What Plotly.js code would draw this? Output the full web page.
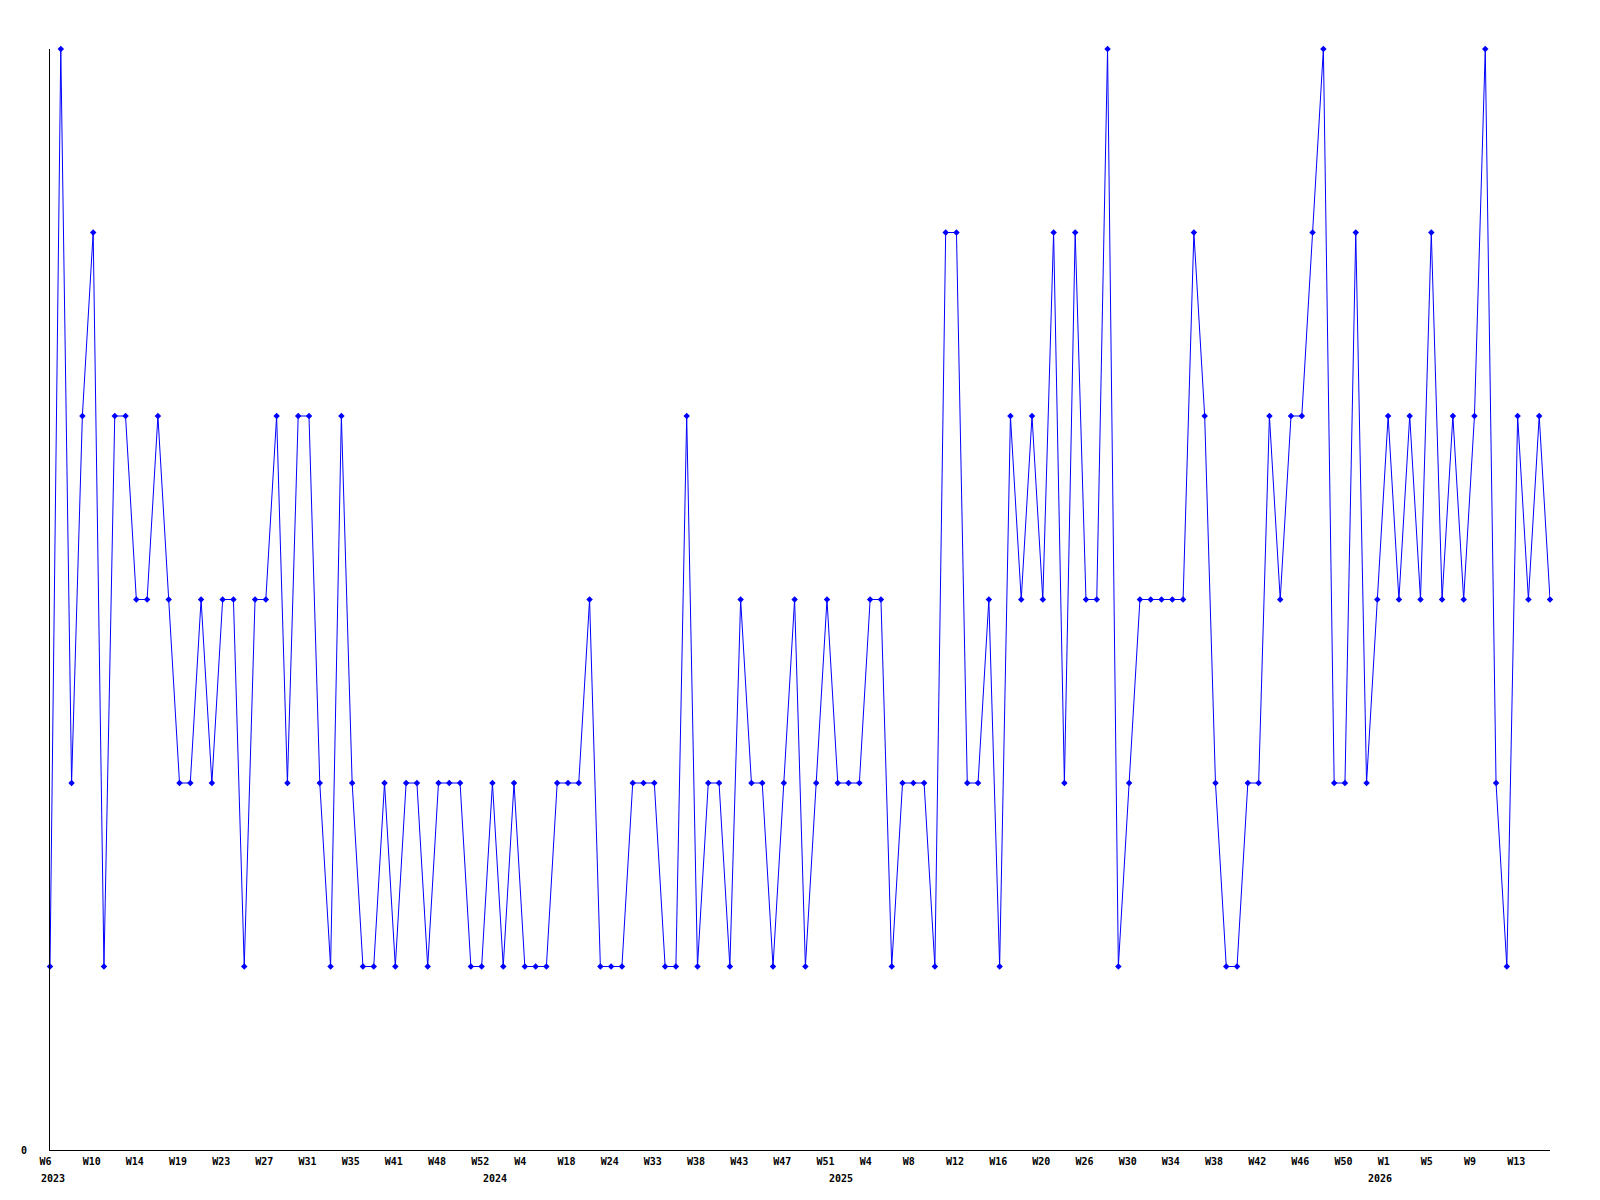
<!DOCTYPE html>
<html>
<head>
<meta charset="utf-8">
<script src="https://cdn.plot.ly/plotly-3.0.1.min.js"></script>
<style>
  html, body { margin: 0; padding: 0; background: #ffffff; }
  #chart { width: 1600px; height: 1200px; }
</style>
</head>
<body>
<div id="chart"></div>
<script>
// Week categories (year-week), one per data point
const weeks = [
  "2023-W06","2023-W07","2023-W08","2023-W09","2023-W10","2023-W11","2023-W12","2023-W13",
  "2023-W14","2023-W15","2023-W16","2023-W18","2023-W19","2023-W20","2023-W21","2023-W22",
  "2023-W23","2023-W24","2023-W25","2023-W26","2023-W27","2023-W28","2023-W29","2023-W30",
  "2023-W31","2023-W32","2023-W33","2023-W34","2023-W35","2023-W36","2023-W38","2023-W39",
  "2023-W41","2023-W43","2023-W45","2023-W46","2023-W48","2023-W49","2023-W50","2023-W51",
  "2023-W52","2024-W01","2024-W02","2024-W03","2024-W04","2024-W07","2024-W10","2024-W14",
  "2024-W18","2024-W19","2024-W21","2024-W22","2024-W24","2024-W26","2024-W28","2024-W31",
  "2024-W33","2024-W34","2024-W35","2024-W37","2024-W38","2024-W39","2024-W40","2024-W42",
  "2024-W43","2024-W44","2024-W45","2024-W46","2024-W47","2024-W48","2024-W49","2024-W50",
  "2024-W51","2025-W00","2025-W01","2025-W02","2025-W04","2025-W05","2025-W06","2025-W07",
  "2025-W08","2025-W09","2025-W10","2025-W11","2025-W12","2025-W13","2025-W14","2025-W15",
  "2025-W16","2025-W17","2025-W18","2025-W19","2025-W20","2025-W21","2025-W23","2025-W24",
  "2025-W26","2025-W27","2025-W28","2025-W29","2025-W30","2025-W31","2025-W32","2025-W33",
  "2025-W34","2025-W35","2025-W36","2025-W37","2025-W38","2025-W39","2025-W40","2025-W41",
  "2025-W42","2025-W43","2025-W44","2025-W45","2025-W46","2025-W47","2025-W48","2025-W49",
  "2025-W50","2025-W51","2025-W52","2026-W00","2026-W01","2026-W02","2026-W03","2026-W04",
  "2026-W05","2026-W06","2026-W07","2026-W08","2026-W09","2026-W10","2026-W11","2026-W12",
  "2026-W13","2026-W14","2026-W15","2026-W16"
];

// Values per week
const counts = [
  1,6,2,4,5,1,4,4,3,3,4,3,2,2,3,2,
  3,3,1,3,3,4,2,4,4,2,1,4,2,1,1,2,
  1,2,2,1,2,2,2,1,1,2,1,2,1,1,1,2,
  2,2,3,1,1,1,2,2,2,1,1,4,1,2,2,1,
  3,2,2,1,2,3,1,2,3,2,2,2,3,3,1,2,
  2,2,1,5,5,2,2,3,1,4,3,4,3,5,2,5,
  3,3,6,1,2,3,3,3,3,3,5,4,2,1,1,2,
  2,4,3,4,4,5,6,2,2,5,2,3,4,3,4,3,
  5,3,4,3,4,6,2,1,4,3,4,3
];

// Tick labels shown under the axis (every 4th week)
const tickLabels = [
  "W6","W10","W14","W19","W23","W27","W31","W35","W41","W48","W52",
  "W4","W18","W24","W33","W38","W43","W47","W51",
  "W4","W8","W12","W16","W20","W26","W30","W34","W38","W42","W46","W50",
  "W1","W5","W9","W13"
];

// Year labels and the first week of each year
const yearLabels = ["2023","2024","2025","2026"];
const yearStarts = ["2023-W06","2024-W01","2025-W00","2026-W00"];

const TICK_STEP = 4;
const tickVals = tickLabels.map((_, i) => weeks[i * TICK_STEP]);

const fontFam = "DejaVu Sans Mono, monospace";
const axisFont = { family: fontFam, size: 10, color: "#000000", weight: "bold" };

const trace = {
  type: "scatter",
  mode: "lines+markers",
  x: weeks,
  y: counts,
  line: { color: "#0000ff", width: 1 },
  marker: { color: "#0000ff", symbol: "diamond", size: 5 },
  cliponaxis: false,
  hoverinfo: "x+y"
};

const annotations = yearLabels.map((t, i) => ({
  text: t,
  x: yearStarts[i],
  xref: "x",
  y: 0,
  yref: "paper",
  xanchor: "left",
  yanchor: "top",
  xshift: -11,
  yshift: -21,
  showarrow: false,
  font: axisFont
}));

const layout = {
  width: 1600,
  height: 1200,
  margin: { l: 50, r: 50, t: 49, b: 50, pad: 0 },
  paper_bgcolor: "#ffffff",
  plot_bgcolor: "#ffffff",
  showlegend: false,
  xaxis: {
    type: "category",
    categoryorder: "array",
    categoryarray: weeks,
    range: [0, weeks.length - 1],
    showline: true,
    linecolor: "#000000",
    linewidth: 1,
    showgrid: false,
    zeroline: false,
    ticks: "",
    tickmode: "array",
    tickvals: tickVals,
    ticktext: tickLabels,
    tickangle: 0,
    ticklabelposition: "outside right",
    ticklabelshift: -11,
    ticklabelstandoff: 2,
    tickfont: axisFont,
    fixedrange: true
  },
  yaxis: {
    range: [0, 6],
    showline: true,
    linecolor: "#000000",
    linewidth: 1,
    showgrid: false,
    zeroline: false,
    ticks: "",
    tickmode: "array",
    tickvals: [0],
    ticktext: ["0"],
    ticklabelstandoff: 20,
    tickfont: axisFont,
    fixedrange: true
  },
  annotations: annotations
};

Plotly.newPlot("chart", [trace], layout, { displayModeBar: false, staticPlot: true });
</script>
</body>
</html>
